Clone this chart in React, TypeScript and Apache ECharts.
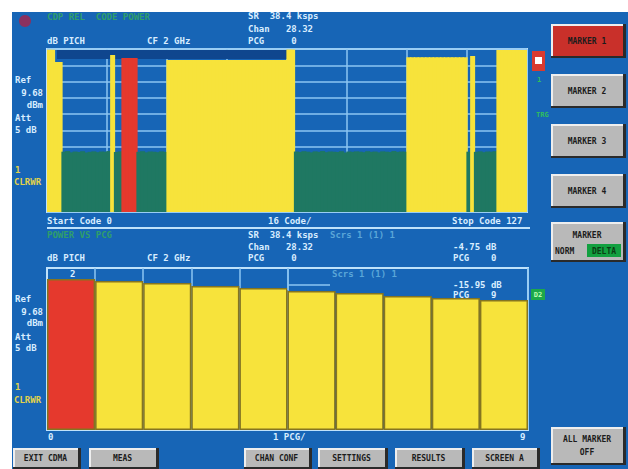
import React, { useEffect, useRef } from "react";
import * as echarts from "echarts";

// ---------- data ----------
const CODES: string[] = Array.from({ length: 128 }, (_, i) => String(i));
const CODE_POWER: number[] = [
  -0.5, -0.5, -8.0, -8.0,
  -63.0, -62.6, -63.4, -62.9, -63.2, -62.7, -63.5, -63.1, -62.8, -63.3, -62.9, -63.0, -62.6,
  -3.7,
  -63.2, -62.8,
  -5.5, -5.5, -5.5, -5.5,
  -63.1, -62.7, -63.4, -62.9, -63.0, -63.3, -62.8, -63.1,
  -6.7, -6.7, -6.7, -6.7, -6.7, -6.7, -6.7, -6.7, -6.7, -6.7, -6.7, -6.7, -6.7, -6.7, -6.7, -6.7,
  -6.7, -6.7, -6.7, -6.7, -6.7, -6.7, -6.7, -6.7, -6.7, -6.7, -6.7, -6.7, -6.7, -6.7, -6.7, -6.7,
  -0.3, -0.3,
  -62.9, -63.2, -62.7, -63.0, -63.4, -62.8, -63.1, -62.6, -63.3, -62.9, -63.0, -63.2, -62.7, -63.5, -62.9,
  -63.1, -62.8, -63.0, -63.3, -62.7, -63.1, -62.9, -63.4, -62.8, -63.0, -63.2, -62.6, -63.1, -62.9, -63.0,
  -5.0, -5.0, -5.0, -5.0, -5.0, -5.0, -5.0, -5.0, -5.0, -5.0, -5.0, -5.0, -5.0, -5.0, -5.0, -5.0,
  -63.0,
  -4.3,
  -63.1, -62.8, -63.3, -62.9, -63.0, -62.7,
  -0.6, -0.6, -0.6, -0.6, -0.6, -0.6, -0.6, -0.6,
];
const SELECTED_CODES: number[] = [20, 21, 22, 23];
const PCG: string[] = ["0", "1", "2", "3", "4", "5", "6", "7", "8", "9"];
const PCG_POWER: number[] = [-6.8, -8.0, -9.3, -11.1, -12.3, -14.2, -15.4, -17.3, -18.5, -19.8];
const SELECTED_PCG: number[] = [0];
const Y_TICKS = { min: -100, max: 0, step: 10 };

// ---------- styles ----------
const BG = "#1765b6";
const TXT = "#d9edff";
const GRIDC = "#8cc6f2";
const FRAME = "#bfe2fb";
const YEL = "#f7e33b";
const GRN = "#1f7862";
const RED = "#e5392d";
const FONT = 'bold 9px "DejaVu Sans Mono"';
const BFONT = 'bold 8px "DejaVu Sans Mono"';

function txt(text: string, x: number, y: number, fill = TXT, align = "left", font = FONT) {
  return {
    type: "text",
    x,
    y,
    z: 20,
    style: { text, fill, font, textAlign: align, textVerticalAlign: "middle" },
  };
}

function button(x: number, y: number, w: number, h: number, lines: string[], fill = "#b9b9b9") {
  const children: any[] = [
    { type: "rect", shape: { x: 0, y: 0, width: w, height: h }, style: { fill: "#2a2a2a" } },
    { type: "rect", shape: { x: 0, y: 0, width: w - 3, height: h - 2 }, style: { fill: "#eeeeee" } },
    { type: "rect", shape: { x: 2, y: 2, width: w - 5, height: h - 4 }, style: { fill } },
  ];
  const n = lines.length;
  lines.forEach((l, i) => {
    children.push({
      type: "text",
      x: (w - 3) / 2,
      y: n === 1 ? h / 2 : h * (i + 1) / (n + 1),
      style: { text: l, fill: "#1c1c1c", font: BFONT, textAlign: "center", textVerticalAlign: "middle" },
    });
  });
  return { type: "group", x, y, z: 20, children };
}

export default function App() {
  const ref = useRef<HTMLDivElement>(null);
  useEffect(() => {
    if (!ref.current) return;
    const chart = echarts.init(ref.current, null, { renderer: "svg" });

    const topData = CODE_POWER.map((v, i) => {
      const c = SELECTED_CODES.includes(i) ? RED : v > -40 ? YEL : GRN;
      return { value: v, itemStyle: { color: c } };
    });
    const botData = PCG_POWER.map((v, i) => ({
      value: v,
      itemStyle: { color: SELECTED_PCG.includes(i) ? RED : YEL },
    }));

    const hiddenAxis = {
      axisLine: { show: false },
      axisTick: { show: false },
      axisLabel: { show: false },
    };

    const deltaBtn = button(551, 222, 75, 40, ["MARKER", " "]);
    (deltaBtn.children as any[]).push(
      { type: "rect", shape: { x: 36, y: 22, width: 34, height: 13 }, style: { fill: "#12a040" } },
      { type: "text", x: 4, y: 29, style: { text: "NORM", fill: "#1c1c1c", font: BFONT, textVerticalAlign: "middle" } },
      { type: "text", x: 53, y: 29, style: { text: "DELTA", fill: "#0b3d14", font: BFONT, textAlign: "center", textVerticalAlign: "middle" } }
    );

    const option: any = {
      animation: false,
      backgroundColor: "#ffffff",
      grid: [
        { left: 47, top: 49, width: 480, height: 163, show: true, borderColor: FRAME, borderWidth: 2, backgroundColor: BG },
        { left: 47, top: 268, width: 481, height: 162, show: true, borderColor: FRAME, borderWidth: 2, backgroundColor: BG },
      ],
      xAxis: [
        {
          type: "category", gridIndex: 0, data: CODES, ...hiddenAxis,
          splitLine: { show: true, interval: (i: number) => i % 16 === 0 && i > 0, lineStyle: { color: GRIDC, width: 1.5 } },
        },
        {
          type: "category", gridIndex: 1, data: PCG, ...hiddenAxis,
          splitLine: { show: true, interval: (i: number) => i >= 1 && i <= 5, lineStyle: { color: GRIDC, width: 1.5 } },
        },
      ],
      yAxis: [
        {
          type: "value", gridIndex: 0, min: Y_TICKS.min, max: Y_TICKS.max, interval: Y_TICKS.step, startValue: Y_TICKS.min, ...hiddenAxis,
          splitLine: { show: true, lineStyle: { color: GRIDC, width: 1.5 } },
        },
        {
          type: "value", gridIndex: 1, min: Y_TICKS.min, max: Y_TICKS.max, interval: Y_TICKS.step, startValue: Y_TICKS.min, ...hiddenAxis,
          splitLine: { show: false },
        },
      ],
      series: [
        {
          type: "bar", xAxisIndex: 0, yAxisIndex: 0, data: topData,
          barWidth: 5, z: 3,
        },
        {
          type: "bar", xAxisIndex: 1, yAxisIndex: 1, data: botData,
          barWidth: "100%", barCategoryGap: "0%", z: 3,
          itemStyle: { borderColor: "#857520", borderWidth: 1.5 },
        },
      ],
      graphic: [
        { type: "rect", z: -10, shape: { x: 12, y: 12, width: 616, height: 457 }, style: { fill: BG } },
        // marker readout strip in top diagram
        { type: "rect", z: 1, shape: { x: 57, y: 50, width: 231, height: 9 }, style: { fill: "#0f468e" } },
        // separator between screens
        { type: "rect", z: 5, shape: { x: 47, y: 227, width: 483, height: 2 }, style: { fill: FRAME } },
        // marker line in lower diagram
        { type: "line", z: 5, shape: { x1: 288, y1: 269, x2: 288, y2: 290 }, style: { stroke: GRIDC, lineWidth: 1.5 } },
        { type: "line", z: 5, shape: { x1: 288, y1: 285, x2: 330, y2: 285 }, style: { stroke: GRIDC, lineWidth: 1.5 } },
        // status led
        { type: "circle", z: 5, shape: { cx: 25, cy: 21, r: 6 }, style: { fill: "#8a3160" } },

        // top header
        txt("CDP REL  CODE POWER", 47, 17, "#2f9e6a"),
        txt("SR  38.4 ksps", 248, 16),
        txt("Chan   28.32", 248, 29),
        txt("dB PICH", 47, 41),
        txt("CF 2 GHz", 147, 41),
        txt("PCG     0", 248, 41),

        // top left labels
        txt("Ref", 15, 80),
        txt("9.68", 43, 93, TXT, "right"),
        txt("dBm", 43, 105, TXT, "right"),
        txt("Att", 15, 118),
        txt("5 dB", 15, 130),
        txt("1", 15, 170, "#e3d24a"),
        txt("CLRWR", 14, 182, "#e3d24a"),

        // top x labels
        txt("Start Code 0", 47, 221),
        txt("16 Code/", 268, 221),
        txt("Stop Code 127", 452, 221),

        // right markers of top diagram
        { type: "rect", z: 5, shape: { x: 532, y: 51, width: 13, height: 20 }, style: { fill: "#d93a30" } },
        { type: "rect", z: 6, shape: { x: 535, y: 57, width: 7, height: 7 }, style: { fill: "#ffffff" } },
        txt("1", 537, 80, "#2fbf5a", "left", 'bold 7px "DejaVu Sans Mono"'),
        txt("TRG", 536, 115, "#2fbf5a", "left", 'bold 7px "DejaVu Sans Mono"'),

        // second header
        txt("POWER VS PCG", 47, 235, "#2f9e6a"),
        txt("SR  38.4 ksps", 248, 235),
        txt("Scrs 1 (1) 1", 330, 235, "#5aa6d8"),
        txt("Chan   28.32", 248, 247),
        txt("-4.75 dB", 453, 247),
        txt("dB PICH", 47, 258),
        txt("CF 2 GHz", 147, 258),
        txt("PCG     0", 248, 258),
        txt("PCG    0", 453, 258),

        // inside lower diagram
        txt("2", 70, 274),
        txt("Scrs 1 (1) 1", 332, 274, "#5aa6d8"),
        txt("-15.95 dB", 453, 285),
        txt("PCG    9", 453, 295),
        { type: "rect", z: 5, shape: { x: 531, y: 289, width: 14, height: 11 }, style: { fill: "#1da84a" } },
        txt("D2", 538, 295, "#b9ffb0", "center", 'bold 7px "DejaVu Sans Mono"'),

        // lower left labels
        txt("Ref", 15, 299),
        txt("9.68", 43, 312, TXT, "right"),
        txt("dBm", 43, 323, TXT, "right"),
        txt("Att", 15, 337),
        txt("5 dB", 15, 348),
        txt("1", 15, 387, "#e3d24a"),
        txt("CLRWR", 14, 400, "#e3d24a"),

        // lower x labels
        txt("0", 48, 437),
        txt("1 PCG/", 273, 437),
        txt("9", 520, 437),

        // softkeys
        button(551, 24, 75, 34, ["MARKER 1"], "#c9302a"),
        button(551, 74, 75, 34, ["MARKER 2"]),
        button(551, 124, 75, 34, ["MARKER 3"]),
        button(551, 174, 75, 34, ["MARKER 4"]),
        deltaBtn,
        button(551, 427, 75, 38, ["ALL MARKER", "OFF"]),
        button(13, 448, 68, 21, ["EXIT CDMA"]),
        button(89, 448, 70, 21, ["MEAS"]),
        button(244, 448, 68, 21, ["CHAN CONF"]),
        button(318, 448, 70, 21, ["SETTINGS"]),
        button(395, 448, 70, 21, ["RESULTS"]),
        button(472, 448, 68, 21, ["SCREEN A"]),
      ],
    };
    chart.setOption(option);
    return () => chart.dispose();
  }, []);
  return (
    <div
      ref={ref}
      style={{ position: "fixed", left: 0, top: 0, width: 628, height: 469 }}
    />
  );
}
